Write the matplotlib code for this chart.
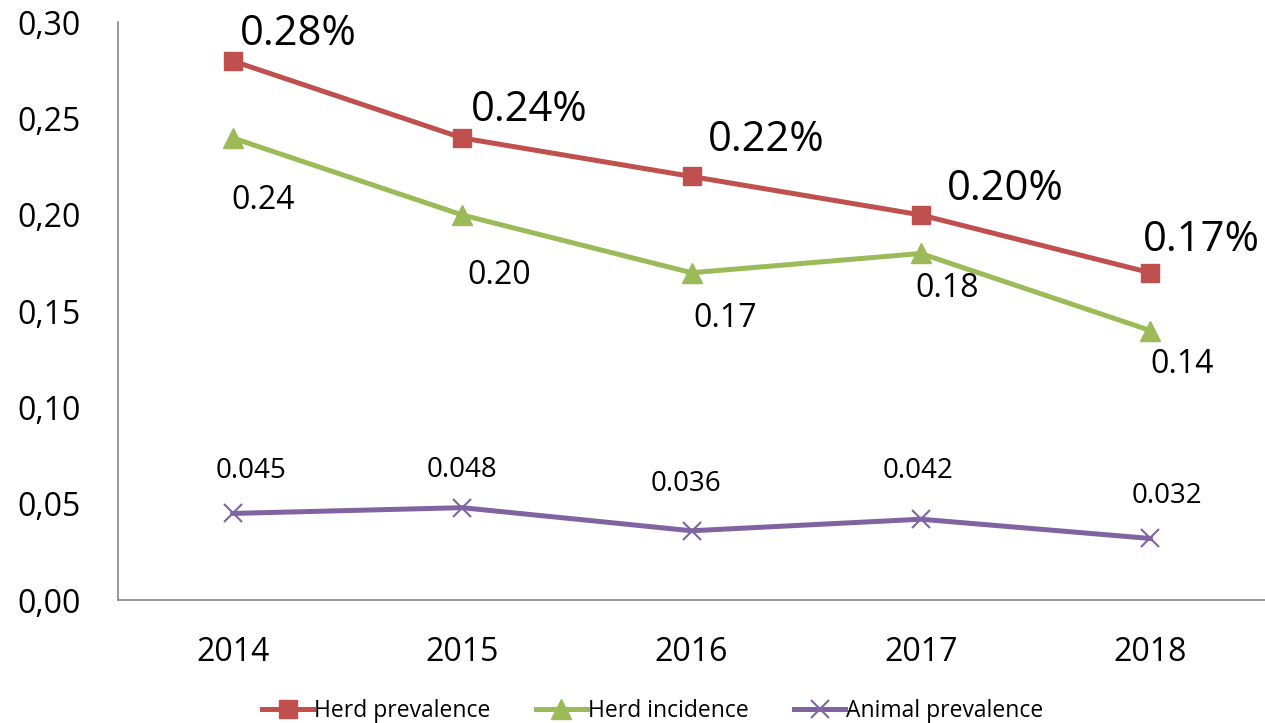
import matplotlib.pyplot as plt

plt.rcParams['font.family'] = ['Open Sans', 'DejaVu Sans']

years = ['2014', '2015', '2016', '2017', '2018']
herd_prev = [0.28, 0.24, 0.22, 0.20, 0.17]
herd_inc = [0.24, 0.20, 0.17, 0.18, 0.14]
animal_prev = [0.045, 0.048, 0.036, 0.042, 0.032]

prev_labels = ['0.28%', '0.24%', '0.22%', '0.20%', '0.17%']
inc_labels = ['0.24', '0.20', '0.17', '0.18', '0.14']
animal_labels = ['0.045', '0.048', '0.036', '0.042', '0.032']

# label offsets in pixels (x, y)
prev_off = [(66, 27), (67, 28), (75, 36), (84, 26), (51, 33)]
inc_off = [(30, -63), (37, -61), (34, -46), (26, -35), (32, -34)]
animal_off = [(18, 42), (0, 38), (-6, 47), (-3, 48), (17, 42)]

red = '#C0504D'
green = '#9BBB59'
purple = '#8064A2'

fig = plt.figure(figsize=(12.65, 7.23), dpi=100)
ax = fig.add_axes([0.0933, 0.170, 0.9067, 0.799])
x = range(len(years))

ax.plot(x, herd_prev, color=red, lw=3.6, marker='s', ms=13, label='Herd prevalence')
ax.plot(x, herd_inc, color=green, lw=3.6, marker='^', ms=14, label='Herd incidence')
ax.plot(x, animal_prev, color=purple, lw=3.6, marker='x', ms=13, mew=1.5, label='Animal prevalence')

for i in x:
    ax.annotate(prev_labels[i], (i, herd_prev[i]), xytext=prev_off[i], textcoords='offset pixels',
                ha='center', va='center', fontsize=30)
    ax.annotate(inc_labels[i], (i, herd_inc[i]), xytext=inc_off[i], textcoords='offset pixels',
                ha='center', va='center', fontsize=23)
    ax.annotate(animal_labels[i], (i, animal_prev[i]), xytext=animal_off[i], textcoords='offset pixels',
                ha='center', va='center', fontsize=20)

ax.set_xlim(-0.5, 4.5)
ax.set_ylim(0, 0.30)
ax.set_xticks(list(x))
ax.set_xticklabels(years)
ax.set_yticks([0, 0.05, 0.10, 0.15, 0.20, 0.25, 0.30])
ax.set_yticklabels(['0,00', '0,05', '0,10', '0,15', '0,20', '0,25', '0,30'])
ax.tick_params(length=0, labelsize=23)
ax.tick_params(axis='x', pad=26)
ax.tick_params(axis='y', pad=27)
for s in ['top', 'right']:
    ax.spines[s].set_visible(False)
for s in ['left', 'bottom']:
    ax.spines[s].set_color('#868686')
    ax.spines[s].set_linewidth(1.2)

fig.legend(loc='lower center', bbox_to_anchor=(0.516, -0.028), ncol=3, frameon=False,
           fontsize=16.5, handlelength=2.2, columnspacing=2.0, handletextpad=0.05)

fig.savefig('out.png', dpi=100)
